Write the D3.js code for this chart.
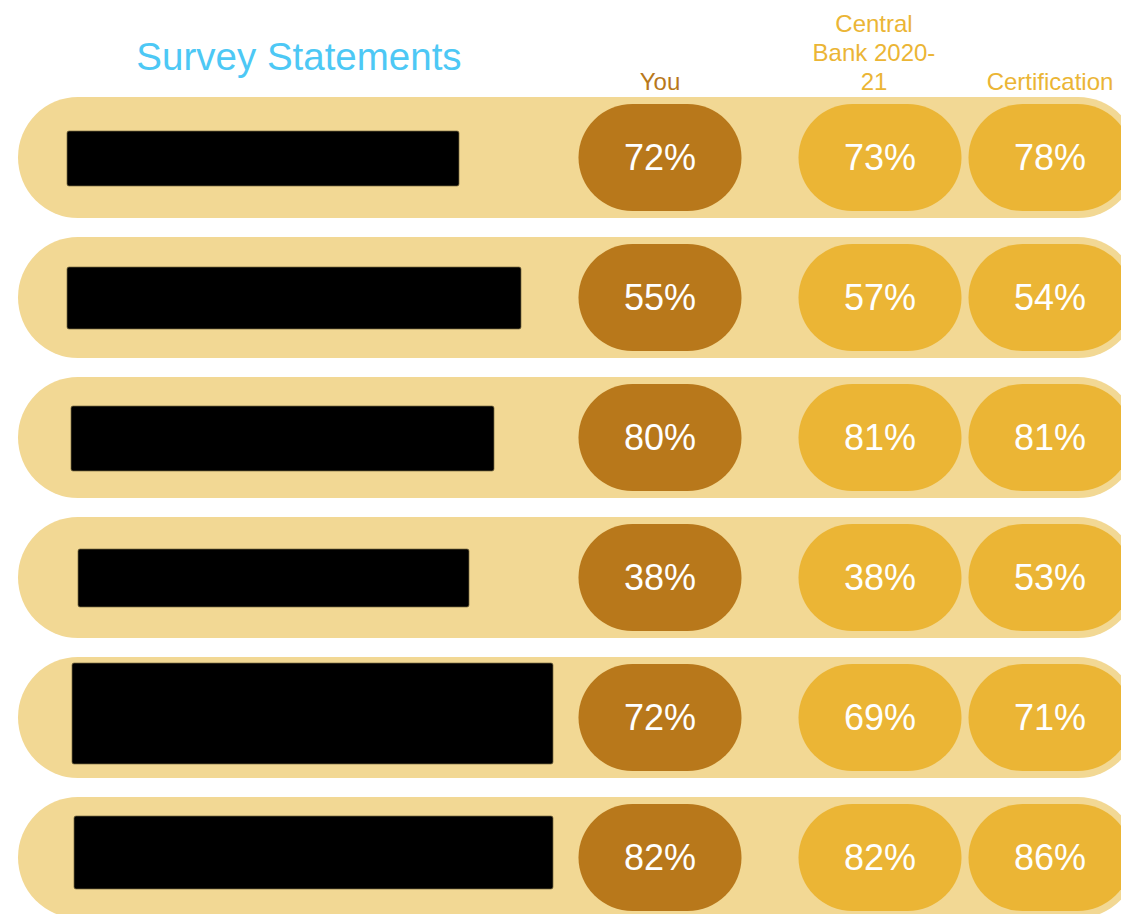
<!DOCTYPE html>
<html>
<head>
<meta charset="utf-8">
<script src="https://cdn.jsdelivr.net/npm/d3@7"></script>
<style>
  html, body { margin: 0; padding: 0; background: #ffffff; }
  svg { display: block; }
  text { font-family: "Liberation Sans", Arial, sans-serif; }
</style>
</head>
<body>
<svg id="chart" width="1121" height="914"></svg>
<script>
// ---- data ----
const statements = ["Statement 1", "Statement 2", "Statement 3", "Statement 4", "Statement 5", "Statement 6"];
const columns = ["You", "Central Bank 2020-21", "Certification"];
const columnHeaderLines = [["You"], ["Central", "Bank 2020-", "21"], ["Certification"]];
const youValues = [72, 55, 80, 38, 72, 82];
const centralBankValues = [73, 57, 81, 38, 69, 82];
const certificationValues = [78, 54, 81, 53, 71, 86];
const chartTitle = "Survey Statements";

// ---- layout (redacted statement text boxes: x0, x1, top offset, bottom offset within row) ----
const redactionBoxes = [
  [67, 459, 34, 89],
  [67, 521, 30, 92],
  [71, 494, 29, 94],
  [78, 469, 32, 90],
  [72, 553, 6, 107],
  [74, 553, 19, 92]
];

const seriesValues = [youValues, centralBankValues, certificationValues];
const colors = {
  row: "#F2D894",
  you: "#B8781B",
  other: "#EBB535",
  title: "#4DC8F5"
};

const svg = d3.select("#chart");

// band scale for rows: step 140, band 121
const pad = 19 / 140;
const y = d3.scaleBand()
  .domain(statements)
  .range([97, 97 + 140 * (statements.length - pad)])
  .paddingInner(pad)
  .paddingOuter(0);

const xCol = d3.scaleOrdinal().domain(columns).range([660, 880, 1050]);
const colColor = d3.scaleOrdinal().domain(columns).range([colors.you, colors.other, colors.other]);

// title
svg.append("text")
  .attr("x", 299).attr("y", 70)
  .attr("text-anchor", "middle")
  .attr("font-size", 38.5)
  .attr("fill", colors.title)
  .text(chartTitle);

// column headers
columns.forEach((c, i) => {
  const lines = columnHeaderLines[i];
  const cx = i === 1 ? 874 : xCol(c);
  lines.forEach((ln, j) => {
    svg.append("text")
      .attr("x", cx)
      .attr("y", 90 - (lines.length - 1 - j) * 29)
      .attr("text-anchor", "middle")
      .attr("font-size", 24)
      .attr("fill", colColor(c))
      .text(ln);
  });
});

// rows
const rows = svg.selectAll("g.row")
  .data(statements)
  .join("g")
  .attr("class", "row")
  .attr("transform", d => `translate(0,${y(d)})`);

const bw = y.bandwidth();

rows.append("rect")
  .attr("x", 18).attr("y", 0)
  .attr("width", 1138 - 18).attr("height", bw)
  .attr("rx", 60).attr("ry", bw / 2)
  .attr("fill", colors.row);

// redacted statement boxes
rows.append("rect")
  .attr("x", (d, i) => redactionBoxes[i][0])
  .attr("y", (d, i) => redactionBoxes[i][2])
  .attr("width", (d, i) => redactionBoxes[i][1] - redactionBoxes[i][0])
  .attr("height", (d, i) => redactionBoxes[i][3] - redactionBoxes[i][2])
  .attr("rx", 2)
  .attr("fill", "#000000")
  .attr("stroke", "#7a6a40")
  .attr("stroke-width", 0.7);

// value pills
const pillW = 163, pillH = 107;
columns.forEach((c, ci) => {
  const vals = seriesValues[ci];
  const g = rows.append("g")
    .attr("transform", `translate(${xCol(c)},${bw / 2})`);
  g.append("rect")
    .attr("x", -pillW / 2).attr("y", -pillH / 2)
    .attr("width", pillW).attr("height", pillH)
    .attr("rx", 54).attr("ry", pillH / 2)
    .attr("fill", colColor(c));
  g.append("text")
    .attr("x", 0).attr("y", 0)
    .attr("dy", "0.35em")
    .attr("text-anchor", "middle")
    .attr("font-size", 36)
    .attr("fill", "#ffffff")
    .text((d, i) => vals[i] + "%");
});
</script>
</body>
</html>
